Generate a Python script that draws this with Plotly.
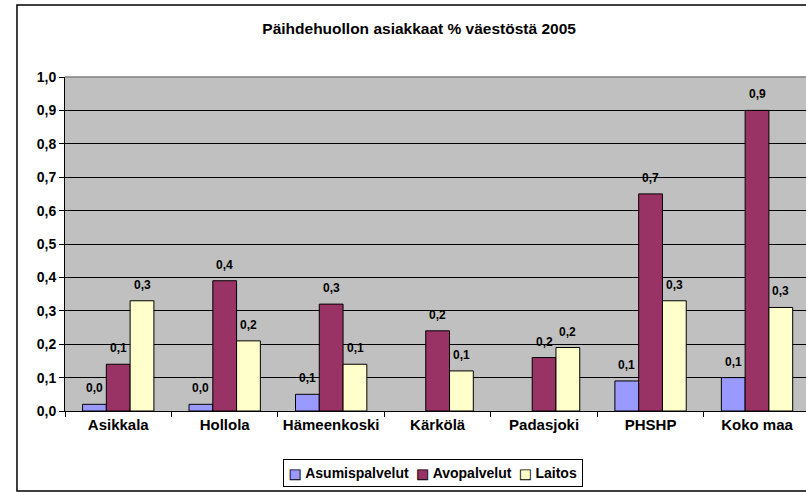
import plotly.graph_objects as go

# data
kunnat = ["Asikkala", "Hollola", "Hämeenkoski", "Kärkölä", "Padasjoki", "PHSHP", "Koko maa"]
asumispalvelut = [0.02, 0.02, 0.05, None, None, 0.09, 0.10]
avopalvelut = [0.14, 0.39, 0.32, 0.24, 0.16, 0.65, 0.90]
laitos = [0.33, 0.21, 0.14, 0.12, 0.19, 0.33, 0.31]

series = [
    ("Asumispalvelut", asumispalvelut, "#9999FF"),
    ("Avopalvelut", avopalvelut, "#993366"),
    ("Laitos", laitos, "#FFFFCC"),
]

fnt = "Liberation Sans, Arial, sans-serif"
bar_px = 23.9  # width of one bar in pixels, used to place value labels

fig = go.Figure()
for k, (name, vals, col) in enumerate(series):
    fig.add_trace(go.Bar(
        x=kunnat, y=vals, name=name,
        marker=dict(color=col, line=dict(color="black", width=1)),
    ))
    # value labels above bars (Excel style, 1 decimal, comma)
    for kunta, v in zip(kunnat, vals):
        if v is None:
            continue
        fig.add_annotation(
            x=kunta, y=v, text="<b>" + f"{v:.1f}".replace(".", ",") + "</b>",
            showarrow=False, xshift=(k - 1) * bar_px, yshift=16,
            yanchor="middle", font=dict(family=fnt, size=12, color="black"),
        )

# Excel-like compact legend: outlined coloured squares + bold names
leg_parts = []
for name, vals, col in series:
    leg_parts.append(
        "<span style='font-family:DejaVu Sans;font-size:13px;fill:%s;stroke:black;stroke-width:0.9px'>■</span> <b>%s</b>" % (col, name))
fig.add_annotation(
    xref="paper", yref="paper", x=0.496, y=-0.1856, xanchor="center", yanchor="middle",
    text=" &nbsp;".join(leg_parts), showarrow=False,
    font=dict(family=fnt, size=14, color="black"),
    bordercolor="black", borderwidth=1, borderpad=5, bgcolor="white",
)

# outer chart border (Excel chart area)
fig.add_shape(type="rect", xref="paper", yref="paper",
              x0=-0.0648, x1=1.02, y0=-0.2395, y1=1.2156,
              line=dict(color="black", width=1.5), layer="below")
# grey plot-area border on top
fig.add_shape(type="line", xref="paper", yref="paper", x0=0, x1=1, y0=1, y1=1,
              line=dict(color="#808080", width=1.5))

fig.update_layout(
    width=806, height=492,
    margin=dict(l=65, r=0, t=77, b=81),
    paper_bgcolor="white",
    plot_bgcolor="#C0C0C0",
    separators=",.",
    barmode="group",
    bargap=0.33,
    bargroupgap=0,
    showlegend=False,
    title=dict(text="<b>Päihdehuollon asiakkaat % väestöstä 2005</b>",
               x=0.520, xanchor="center", y=0.941, yanchor="middle",
               font=dict(family=fnt, size=15.5, color="black")),
    font=dict(family=fnt, color="black"),
)

fig.update_xaxes(
    range=[-0.5, 6.46],
    tickson="boundaries", ticks="outside", ticklen=5, tickcolor="black",
    showline=True, linecolor="black", linewidth=1,
    tickfont=dict(family=fnt, size=15, color="black", weight="bold"),
    showgrid=False,
)
fig.update_yaxes(
    range=[0, 1.0], dtick=0.1, tickformat=".1f",
    ticks="outside", ticklen=5, tickcolor="black",
    showline=True, linecolor="black", linewidth=1,
    gridcolor="black", gridwidth=1,
    tickfont=dict(family=fnt, size=14, color="black", weight="bold"),
    zeroline=False,
)

fig.write_html("out.html", config={"displayModeBar": False},
               post_script="document.body.style.margin='0px';")
